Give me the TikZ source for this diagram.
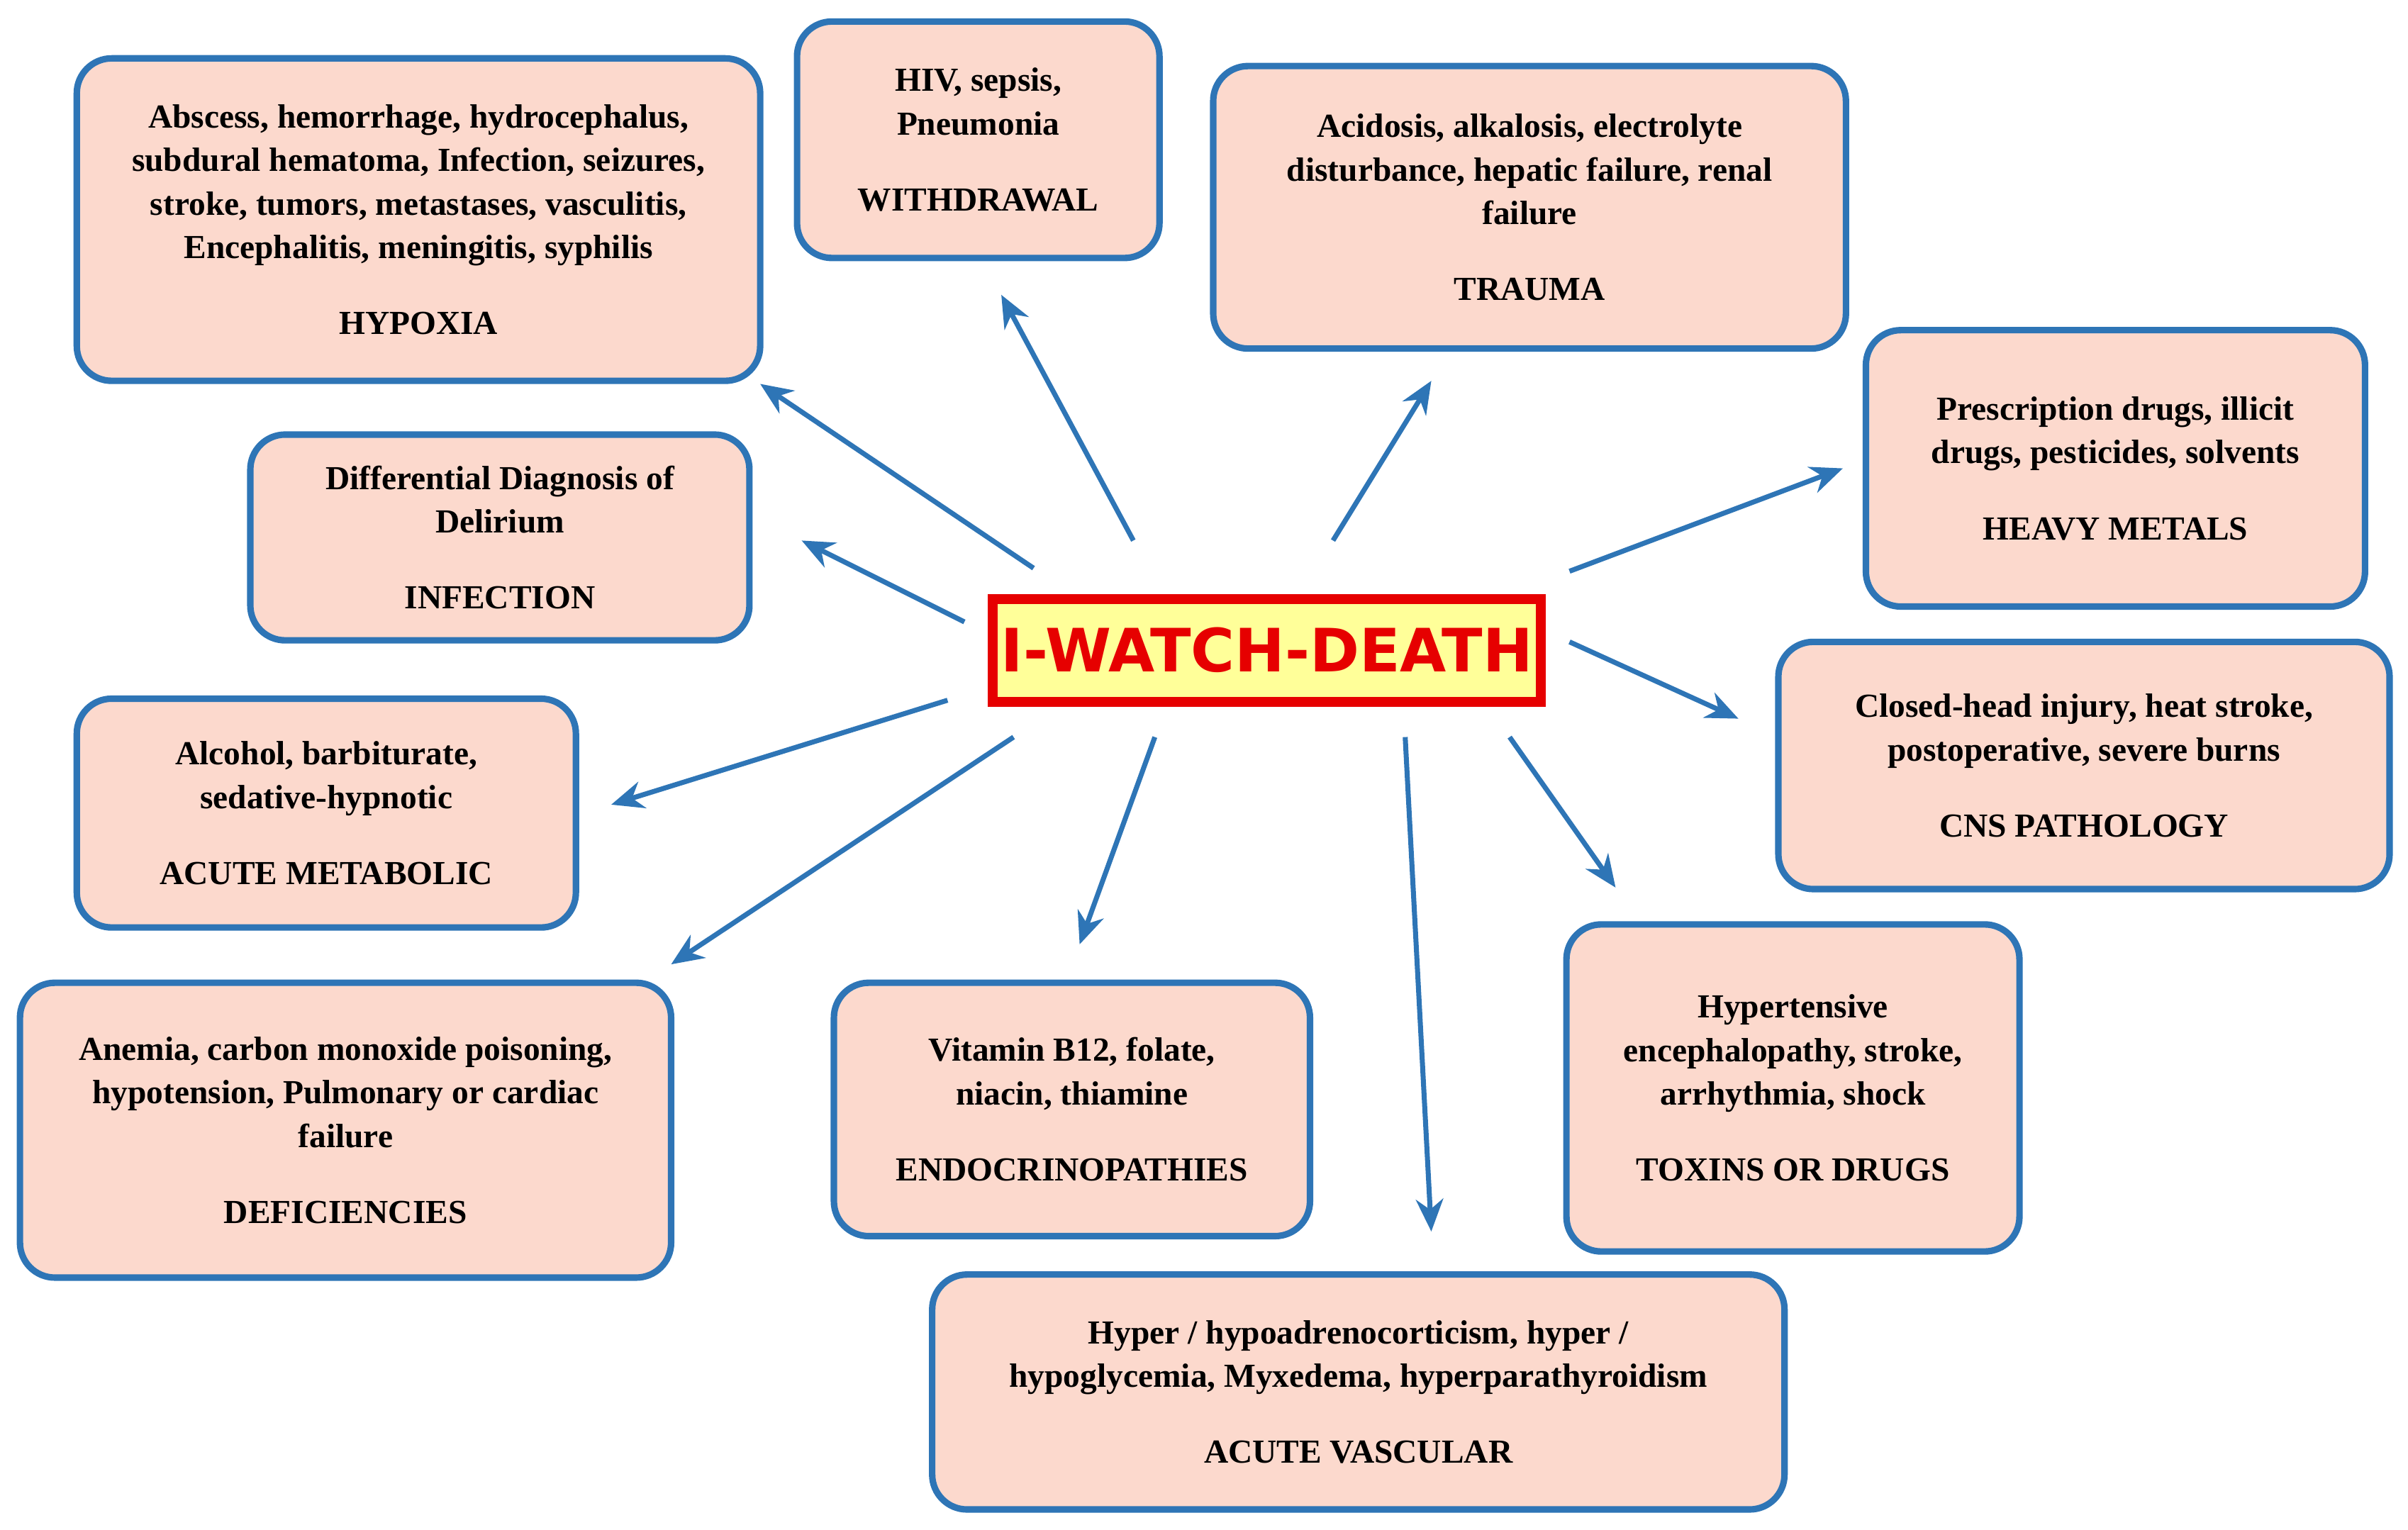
\documentclass[tikz,border=0pt]{standalone}
\usepackage{fontspec}
\setmainfont{Liberation Serif}
\newfontfamily\titlefont{DejaVu Sans}
\usetikzlibrary{arrows.meta}
\definecolor{bblue}{RGB}{46,117,182}
\definecolor{boxfill}{RGB}{252,217,205}
\definecolor{tred}{RGB}{230,0,0}
\definecolor{tyel}{RGB}{255,255,153}
\newcommand\pxd[1]{#1*0.02166cm}
\begin{document}
\begin{tikzpicture}[x=0.02166cm,y=-0.02166cm,
  box/.style={draw=bblue,line width=2.6pt,fill=boxfill,rounded corners=14pt,align=center,
    font=\bfseries\fontsize{13.5}{17.5}\selectfont,inner sep=0pt},
  arr/.style={draw=bblue,line width=2pt,-{Stealth[length=13pt,width=11pt]}}]
\useasboundingbox (0,0) rectangle (1568,996);
\node[box,minimum width=\pxd{445},minimum height=\pxd{210}] (hyp) at (272.5,143) {Abscess, hemorrhage, hydrocephalus,\\subdural hematoma, Infection, seizures,\\stroke, tumors, metastases, vasculitis,\\Encephalitis, meningitis, syphilis\\[13pt]HYPOXIA};
\node[box,minimum width=\pxd{236},minimum height=\pxd{154}] (wd) at (637,91) {HIV, sepsis,\\Pneumonia\\[13pt]WITHDRAWAL};
\node[box,minimum width=\pxd{412},minimum height=\pxd{184}] (tr) at (996,135) {Acidosis, alkalosis, electrolyte\\disturbance, hepatic failure, renal\\failure\\[13pt]TRAUMA};
\node[box,minimum width=\pxd{325},minimum height=\pxd{180}] (hm) at (1377.5,305) {Prescription drugs, illicit\\drugs, pesticides, solvents\\[13pt]HEAVY METALS};
\node[box,minimum width=\pxd{325},minimum height=\pxd{134}] (inf) at (325.5,350) {Differential Diagnosis of\\Delirium\\[13pt]INFECTION};
\node[draw=tred,line width=4pt,fill=tyel,minimum width=\pxd{354},minimum height=\pxd{67},
  font=\titlefont\bfseries\fontsize{24}{28}\selectfont,text=tred] (c) at (825,423.5) {I-WATCH-DEATH};
\node[box,minimum width=\pxd{398},minimum height=\pxd{161}] (cns) at (1357,498.5) {Closed-head injury, heat stroke,\\postoperative, severe burns\\[13pt]CNS PATHOLOGY};
\node[box,minimum width=\pxd{325},minimum height=\pxd{149}] (am) at (212.5,529.5) {Alcohol, barbiturate,\\sedative-hypnotic\\[13pt]ACUTE METABOLIC};
\node[box,minimum width=\pxd{424},minimum height=\pxd{192}] (def) at (225,736) {Anemia, carbon monoxide poisoning,\\hypotension, Pulmonary or cardiac\\failure\\[13pt]DEFICIENCIES};
\node[box,minimum width=\pxd{310},minimum height=\pxd{165}] (end) at (698,722.5) {Vitamin B12, folate,\\niacin, thiamine\\[13pt]ENDOCRINOPATHIES};
\node[box,minimum width=\pxd{295},minimum height=\pxd{213}] (tox) at (1167.5,708.5) {Hypertensive\\encephalopathy, stroke,\\arrhythmia, shock\\[13pt]TOXINS OR DRUGS};
\node[box,minimum width=\pxd{555},minimum height=\pxd{153}] (av) at (884.5,906.5) {Hyper / hypoadrenocorticism, hyper /\\hypoglycemia, Myxedema, hyperparathyroidism\\[13pt]ACUTE VASCULAR};
\foreach \n/\a/\b/\c/\d in {1/673/370/495/250, 2/738/352/652/192, 3/868/352/932/248, 4/1022/372/1200/305,
  5/628/405/522/352, 6/1022/418/1132/468, 7/617/456/398/524, 8/660/480/437/628,
  9/752/480/703/615, 10/915/480/932/802, 11/983/480/1052/578}{
  \coordinate (s\n) at (\a,\b); \coordinate (e\n) at (\c,\d);
  \draw[arr] (s\n) -- (e\n);}
\end{tikzpicture}
\end{document}
